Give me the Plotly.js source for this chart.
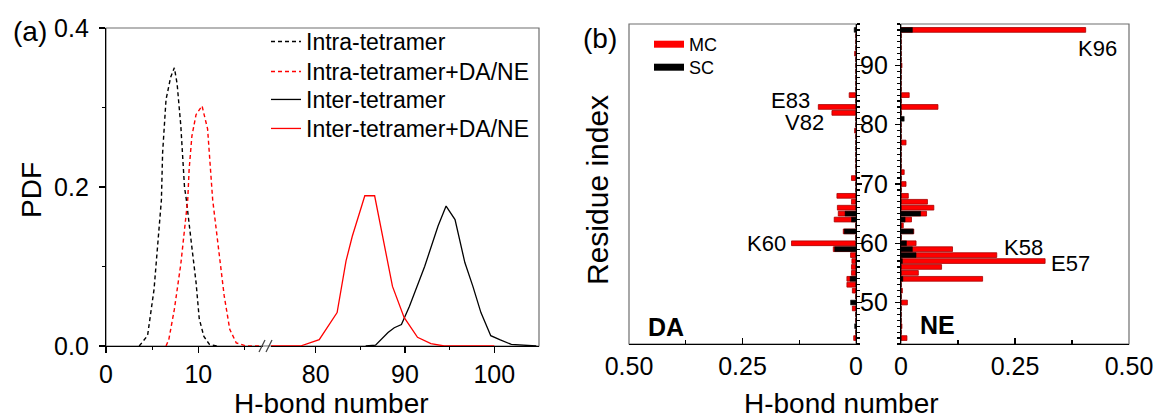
<!DOCTYPE html>
<html>
<head>
<meta charset="utf-8">
<script src="https://cdn.plot.ly/plotly-3.0.1.min.js"></script>
<style>html,body{margin:0;padding:0;background:#fff;}#chart{width:1153px;height:418px;}</style>
</head>
<body>
<div id="chart"></div>
<script>
// ---------- Panel (a): PDF of H-bond number ----------
const intraX = [3.6, 4.5, 5.2, 5.6, 6.0, 6.13, 6.5, 7.0, 7.4, 7.7, 8.1, 8.5, 8.7, 9.2, 9.75, 10.1, 10.6, 11.2, 12];
const intraY = [0, 0.013, 0.071, 0.13, 0.184, 0.243, 0.31, 0.338, 0.35, 0.33, 0.277, 0.2, 0.184, 0.134, 0.08, 0.034, 0.012, 0.002, 0];
const intraDAX = [6.5, 6.8, 7.4, 8.1, 8.85, 9.0, 9.3, 9.75, 10.4, 11.0, 11.55, 12.3, 12.8, 13.4, 14.1, 15.2, 17];
const intraDAY = [0, 0.008, 0.046, 0.103, 0.184, 0.222, 0.264, 0.291, 0.302, 0.273, 0.184, 0.113, 0.063, 0.021, 0.004, 0, 0];
const interX = [85.6, 86.7, 88.1, 88.8, 89.6, 90.5, 92.2, 93.7, 94.6, 95.6, 96.7, 97.6, 98.5, 99.6, 100.6, 101.9, 104.7];
const interY = [0, 0.001, 0.017, 0.023, 0.027, 0.05, 0.1, 0.151, 0.176, 0.159, 0.105, 0.075, 0.042, 0.013, 0.008, 0.002, 0];
const interDAX = [75, 78.3, 80.4, 81.3, 82.4, 83.4, 84.1, 85.2, 85.5, 86.6, 86.9, 87.7, 88.6, 89.9, 91.4, 92.9, 94.4, 100];
const interDAY = [0, 0, 0.008, 0.023, 0.042, 0.107, 0.138, 0.178, 0.189, 0.189, 0.172, 0.126, 0.075, 0.036, 0.011, 0.003, 0, 0];
const legendA = ["Intra-tetramer", "Intra-tetramer+DA/NE", "Inter-tetramer", "Inter-tetramer+DA/NE"];

// ---------- Panel (b): per-residue H-bond number ----------
const residues = [44,45,46,47,48,49,50,51,52,53,54,55,56,57,58,59,60,61,62,63,64,65,66,67,68,69,70,
                  71,72,73,74,75,76,77,78,79,80,81,82,83,84,85,86,87,88,89,90,91,92,93,94,95,96];
const daMC =   [0.005, 0, 0,     0, 0, 0.008, 0,     0, 0.008, 0.02, 0.02, 0.01, 0.01, 0.009, 0.012, 0.05, 0.142, 0, 0.028, 0, 0.048, 0.039, 0.041, 0.01, 0.042, 0, 0, 0.01, 0, 0, 0, 0, 0, 0, 0, 0.003, 0, 0, 0.053, 0.083, 0, 0.015, 0, 0, 0, 0, 0, 0, 0.003, 0, 0, 0, 0];
const daSC =   [0,     0, 0.003, 0, 0, 0,     0.012, 0, 0,     0,    0.013, 0,   0,    0,     0,     0.047, 0,    0, 0.026, 0, 0.01,  0.024, 0,     0,    0,     0, 0, 0,    0, 0, 0, 0, 0, 0, 0, 0,     0, 0, 0,     0,     0, 0,     0, 0, 0, 0, 0, 0, 0,     0, 0, 0, 0.004];
const neMC =   [0.013, 0, 0.002, 0, 0, 0,     0.014, 0, 0.003, 0,    0.179, 0.038, 0.089, 0.316, 0.21, 0.113, 0.033, 0, 0.028, 0.005, 0.023, 0.056, 0.072, 0.058, 0.016, 0, 0.011, 0, 0.007, 0, 0, 0, 0, 0.011, 0, 0, 0, 0, 0, 0.081, 0, 0.018, 0, 0, 0, 0, 0.002, 0, 0, 0, 0, 0, 0.405];
const neSC =   [0,     0, 0,     0, 0, 0,     0,     0, 0,     0,    0.004, 0,    0,     0.003, 0.033, 0.025, 0.012, 0, 0.027, 0, 0.009, 0.043, 0,     0,     0,     0, 0,     0, 0,     0, 0, 0, 0, 0,     0, 0, 0, 0.007, 0, 0,  0, 0,     0, 0, 0, 0, 0,     0, 0, 0, 0, 0, 0.025];
const legendB = ["MC", "SC"];
const bTickVals = [0, 0.25, 0.5];
const bTickText = ["0", "0.25", "0.50"];

const W = 1153, H = 418;
const px = v => v / W;
const py = v => 1 - v / H;
const FONT = 'Arial, "Liberation Sans", sans-serif';
const RED = '#ff0000';
const GRAY = '#6e6e6e';

const traces = [
  {x: intraX, y: intraY, xaxis: 'x', yaxis: 'y', mode: 'lines', name: legendA[0],
   line: {color: '#000', width: 1.4, dash: '4px,3px'}, legend: 'legend'},
  {x: intraDAX, y: intraDAY, xaxis: 'x', yaxis: 'y', mode: 'lines', name: legendA[1],
   line: {color: RED, width: 1.4, dash: '4px,3px'}, legend: 'legend2'},
  {x: interX, y: interY, xaxis: 'x2', yaxis: 'y', mode: 'lines', name: legendA[2],
   line: {color: '#000', width: 1.3}, legend: 'legend3'},
  {x: interDAX, y: interDAY, xaxis: 'x2', yaxis: 'y', mode: 'lines', name: legendA[3],
   line: {color: RED, width: 1.3}, legend: 'legend4'},
  // DA bars
  {type: 'bar', orientation: 'h', x: daMC, y: residues, xaxis: 'x3', yaxis: 'y3', width: 0.8,
   marker: {color: RED, line: {color: '#a80000', width: 0.8}}, showlegend: false, name: 'MC'},
  {type: 'bar', orientation: 'h', x: daSC, y: residues, xaxis: 'x3', yaxis: 'y3', width: 0.8,
   marker: {color: '#000', line: {color: '#000', width: 0.5}}, showlegend: false, name: 'SC'},
  // NE bars
  {type: 'bar', orientation: 'h', x: neMC, y: residues, xaxis: 'x4', yaxis: 'y4', width: 0.8,
   marker: {color: RED, line: {color: '#a80000', width: 0.8}}, showlegend: false, name: 'MC'},
  {type: 'bar', orientation: 'h', x: neSC, y: residues, xaxis: 'x4', yaxis: 'y4', width: 0.8,
   marker: {color: '#000', line: {color: '#000', width: 0.5}}, showlegend: false, name: 'SC'},
  // legend swatches for panel (b)
  {x: [null], y: [null], xaxis: 'x3', yaxis: 'y3', mode: 'lines', name: legendB[0],
   line: {color: RED, width: 7}, legend: 'legend5'},
  {x: [null], y: [null], xaxis: 'x3', yaxis: 'y3', mode: 'lines', name: legendB[1],
   line: {color: '#000', width: 7}, legend: 'legend6'}
];

const tickFont = {family: FONT, size: 25, color: '#000'};
const baseAxis = {showgrid: false, zeroline: false, showline: true, linecolor: '#000', linewidth: 1.2,
  ticks: 'outside', ticklen: 6, tickwidth: 1.2, tickcolor: '#000', tickfont: tickFont, fixedrange: true,
  ticklabeloverflow: 'allow'};

function leg(x, yTop, size) {
  return {x: px(x), y: py(yTop), xanchor: 'left', yanchor: 'top', bgcolor: 'rgba(0,0,0,0)',
    font: {family: FONT, size: size, color: '#000'}, tracegroupgap: 0, itemclick: false};
}

const layout = {
  width: W, height: H,
  margin: {l: 0, r: 0, t: 0, b: 0, pad: 0},
  paper_bgcolor: '#fff', plot_bgcolor: 'rgba(0,0,0,0)',
  font: {family: FONT, color: '#000'},
  barmode: 'overlay',
  xaxis: Object.assign({}, baseAxis, {domain: [px(106), px(263)], range: [0, 17], anchor: 'y',
    tickvals: [0, 10], minor: {tickvals: [5, 15], ticklen: 3, ticks: 'outside', tickcolor: '#000'}}),
  xaxis2: Object.assign({}, baseAxis, {domain: [px(271), px(539)], range: [75, 105], anchor: 'y',
    tickvals: [80, 90, 100], minor: {tickvals: [85, 95], ticklen: 3, ticks: 'outside', tickcolor: '#000'}}),
  yaxis: Object.assign({}, baseAxis, {domain: [py(346), py(28)], range: [0, 0.4], anchor: 'x',
    tickvals: [0, 0.2, 0.4], tickformat: '.1f', ticklabelstandoff: 5,
    minor: {tickvals: [0.1, 0.3], ticklen: 3, ticks: 'outside', tickcolor: '#000'}}),
  xaxis3: Object.assign({}, baseAxis, {domain: [px(629), px(856)], range: [0.5, 0], anchor: 'y3',
    tickvals: bTickVals, ticktext: bTickText, ticks: 'inside',
    minor: {tickvals: [0.125, 0.375], ticklen: 4, ticks: 'inside', tickcolor: '#000'}}),
  xaxis4: Object.assign({}, baseAxis, {domain: [px(901), px(1129)], range: [0, 0.5], anchor: 'y4',
    tickvals: bTickVals, ticktext: bTickText, ticks: 'inside',
    minor: {tickvals: [0.125, 0.375], ticklen: 4, ticks: 'inside', tickcolor: '#000'}}),
  yaxis3: Object.assign({}, baseAxis, {domain: [py(344), py(24)], range: [43, 97], anchor: 'x3', side: 'right',
    tick0: 0, dtick: 10, showticklabels: false, ticklen: 5,
    minor: {dtick: 1, ticklen: 3, ticks: 'outside', tickcolor: '#000'}}),
  yaxis4: Object.assign({}, baseAxis, {domain: [py(344), py(24)], range: [43, 97], anchor: 'x4', side: 'left',
    tick0: 0, dtick: 10, ticklen: 5, ticklabelstandoff: 2,
    minor: {dtick: 1, ticklen: 3, ticks: 'outside', tickcolor: '#000'}}),
  legend: leg(266, 20, 23),
  legend2: leg(266, 50, 23),
  legend3: leg(266, 78, 23),
  legend4: leg(266, 107, 23),
  legend5: leg(649, 26, 18),
  legend6: leg(649, 49, 18),
  shapes: [
    {type: 'rect', xref: 'paper', yref: 'paper', x0: px(106), x1: px(539), y0: py(346), y1: py(28),
     line: {color: GRAY, width: 1.2}, layer: 'below'},
    {type: 'rect', xref: 'paper', yref: 'paper', x0: px(629), x1: px(856), y0: py(344), y1: py(24),
     line: {color: GRAY, width: 1.2}, layer: 'below'},
    {type: 'rect', xref: 'paper', yref: 'paper', x0: px(901), x1: px(1129), y0: py(344), y1: py(24),
     line: {color: GRAY, width: 1.2}, layer: 'below'},
    {type: 'line', xref: 'paper', yref: 'paper', x0: px(259), x1: px(265), y0: py(352), y1: py(340),
     line: {color: '#444', width: 1.3}},
    {type: 'line', xref: 'paper', yref: 'paper', x0: px(266), x1: px(272), y0: py(352), y1: py(340),
     line: {color: '#444', width: 1.3}}
  ],
  annotations: []
};

function ann(text, x, y, size, opts) {
  layout.annotations.push(Object.assign({text: text, xref: 'paper', yref: 'paper', x: px(x), y: py(y),
    xanchor: 'center', yanchor: 'middle', showarrow: false,
    font: {family: FONT, size: size, color: '#000'}}, opts || {}));
}
ann('(a)', 30, 32, 28);
ann('(b)', 600, 39, 28);
ann('PDF', 31, 190, 28, {textangle: -90});
ann('Residue index', 597, 190, 30, {textangle: -90});
ann('H-bond number', 331, 403, 28);
ann('H-bond number', 841, 403, 28);
ann('E83', 790, 100, 22);
ann('V82', 805, 123, 22);
ann('K60', 766, 243, 22);
ann('K96', 1097, 48, 22);
ann('K58', 1023, 247, 22);
ann('E57', 1070, 263, 22);
ann('<b>DA</b>', 666, 327, 25);
ann('<b>NE</b>', 938, 325, 25);

Plotly.newPlot('chart', traces, layout, {staticPlot: true, displayModeBar: false});
</script>
</body>
</html>
